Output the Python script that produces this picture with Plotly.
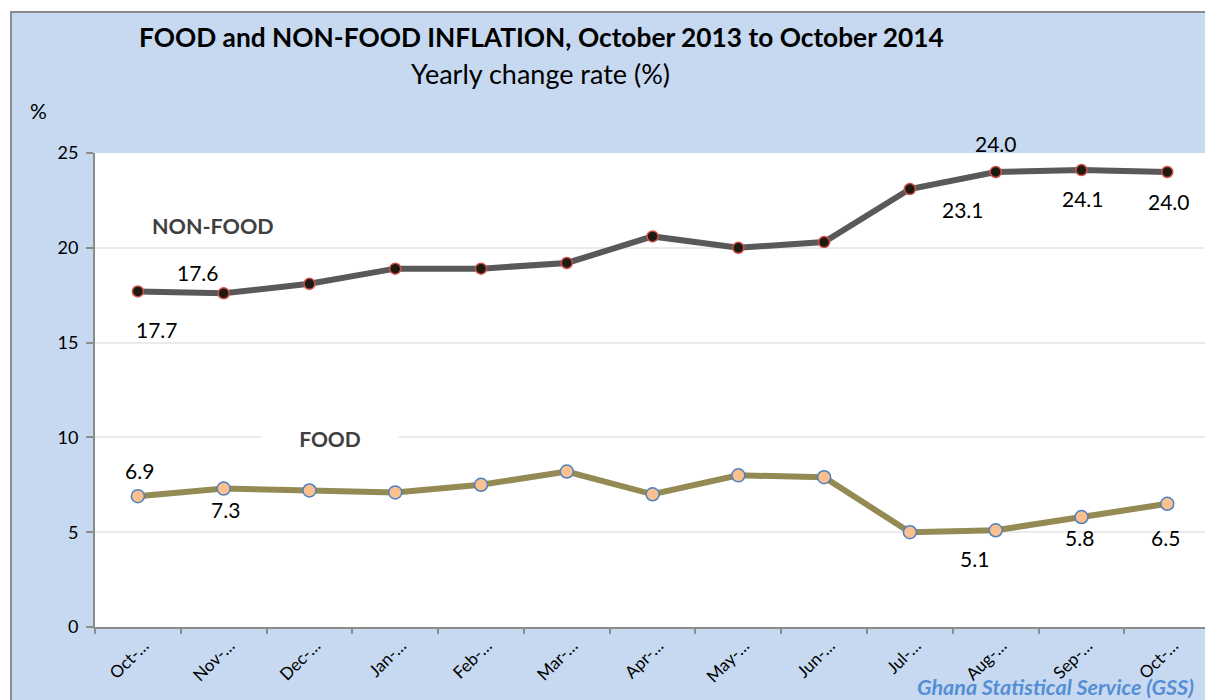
import plotly.graph_objects as go

months = ["Oct-…", "Nov-…", "Dec-…", "Jan-…", "Feb-…", "Mar-…", "Apr-…",
          "May-…", "Jun-…", "Jul-…", "Aug-…", "Sep-…", "Oct-…"]
non_food = [17.7, 17.6, 18.1, 18.9, 18.9, 19.2, 20.6, 20.0, 20.3, 23.1, 24.0, 24.1, 24.0]
food = [6.9, 7.3, 7.2, 7.1, 7.5, 8.2, 7.0, 8.0, 7.9, 5.0, 5.1, 5.8, 6.5]
y_ticks = [0, 5, 10, 15, 20, 25]

# which points carry a data label, and pixel offsets of the label (Excel-like placement)
nf_labels = {0: (19, -38), 1: (-26, 21), 9: (53, -20), 10: (0, 28), 11: (2, -28), 12: (2, -30)}
fd_labels = {0: (2, 26), 1: (2, -21), 10: (-21, -28), 11: (-2, -20), 12: (-2, -34)}

FONT = "Lato"
BLUE_BG = "#C6D9F0"

x = list(range(len(months)))

fig = go.Figure()
fig.add_trace(go.Scatter(
    x=x, y=non_food, mode="lines+markers", name="NON-FOOD",
    line=dict(color="#595959", width=6),
    marker=dict(size=11, color="#1E1A10", line=dict(color="#D0504D", width=1.5)),
    cliponaxis=False, showlegend=False))
fig.add_trace(go.Scatter(
    x=x, y=food, mode="lines+markers", name="FOOD",
    line=dict(color="#948A54", width=6),
    marker=dict(size=13, color="#FAC090", line=dict(color="#4F81BD", width=1.5)),
    cliponaxis=False, showlegend=False))

ann = []
for i, (dx, dy) in nf_labels.items():
    ann.append(dict(x=i, y=non_food[i], xref="x", yref="y", text=f"{non_food[i]:.1f}",
                    showarrow=False, xshift=dx, yshift=dy, xanchor="center", yanchor="middle",
                    font=dict(family=FONT, size=21, color="#000000")))
for i, (dx, dy) in fd_labels.items():
    ann.append(dict(x=i, y=food[i], xref="x", yref="y", text=f"{food[i]:.1f}",
                    showarrow=False, xshift=dx, yshift=dy, xanchor="center", yanchor="middle",
                    font=dict(family=FONT, size=21, color="#000000")))

# screen pixel -> paper helpers (plot area on screen: x 95..1205, y 153..627)
def px(v):
    return (v - 95) / 1110.0

def py(v):
    return (627 - v) / 474.0

def txt(xp, yp, text, size, color="#000000", xanchor="center", **kw):
    return dict(x=px(xp), y=py(yp), xref="paper", yref="paper", showarrow=False,
                xanchor=xanchor, yanchor="middle", text=text,
                font=dict(family=FONT, size=size, color=color), **kw)

ann += [
    txt(541, 37, "<b>FOOD and NON-FOOD INFLATION, October 2013 to October 2014</b>", 26.3),
    txt(540, 73, "Yearly change rate (%)", 27),
    txt(38, 110, "%", 21),
    txt(213, 226, "<b>NON-FOOD</b>", 21.5, "#404040"),
    txt(330, 438, "<b>FOOD</b>", 21, "#404040", bgcolor="#FFFFFF", borderpad=4, width=128),
    txt(1196, 687, "<b><i>Ghana Statistical Service (GSS)</i></b>", 21.5, "#558ED5",
        xanchor="right"),
]

shapes = [
    # white strips outside the chart border
    dict(type="rect", xref="paper", yref="paper", x0=px(-5), x1=px(1206), y0=py(11), y1=py(-5),
         fillcolor="#FFFFFF", line=dict(width=0), layer="above"),
    dict(type="rect", xref="paper", yref="paper", x0=px(-5), x1=px(10), y0=py(701), y1=py(-5),
         fillcolor="#FFFFFF", line=dict(width=0), layer="above"),
    # chart border (top and left edges; the rest lies outside the picture)
    dict(type="line", xref="paper", yref="paper", x0=px(10), x1=px(1206), y0=py(12), y1=py(12),
         line=dict(color="#8C8C8C", width=2), layer="above"),
    dict(type="line", xref="paper", yref="paper", x0=px(11), x1=px(11), y0=py(701), y1=py(11),
         line=dict(color="#8C8C8C", width=2), layer="above"),
]

fig.update_layout(
    width=1205, height=700,
    margin=dict(l=95, r=0, t=153, b=73),
    paper_bgcolor=BLUE_BG, plot_bgcolor="#FFFFFF",
    font=dict(family=FONT, size=16, color="#000000"),
    annotations=ann, shapes=shapes,
    xaxis=dict(
        type="linear", range=[-0.5, 12.44], tickmode="array", tickvals=x, ticktext=months,
        tickangle=-45, ticks="", showgrid=False, zeroline=False,
        showline=True, linecolor="#8C8C8C", linewidth=2, automargin=False,
        ticklabelshift=6,
        tickfont=dict(family=FONT, size=17, color="#000000")),
    yaxis=dict(
        range=[0, 25], tickvals=y_ticks, ticks="outside", ticklen=7, tickcolor="#8C8C8C",
        tickwidth=1.5, showline=True, linecolor="#8C8C8C", linewidth=2,
        gridcolor="#EBEBEB", gridwidth=1.5, zeroline=False, automargin=False,
        ticklabelstandoff=4,
        tickfont=dict(family=FONT, size=18, color="#000000")),
)

# category-boundary tick marks on the x axis, via a secondary invisible axis
fig.update_layout(xaxis2=dict(
    overlaying="x", matches="x", side="bottom", range=[-0.5, 12.44],
    tickmode="array", tickvals=[i + 0.5 for i in range(-1, len(months))],
    showticklabels=False, ticks="outside", ticklen=6, tickwidth=1.5, tickcolor="#8C8C8C",
    showgrid=False, zeroline=False, showline=False, automargin=False))
fig.add_trace(go.Scatter(x=[None], y=[None], xaxis="x2", showlegend=False, hoverinfo="skip"))

fig.write_html(
    "out.html",
    config={"displayModeBar": False},
    post_script="document.body.style.margin='0';document.documentElement.style.overflow='hidden';",
)
